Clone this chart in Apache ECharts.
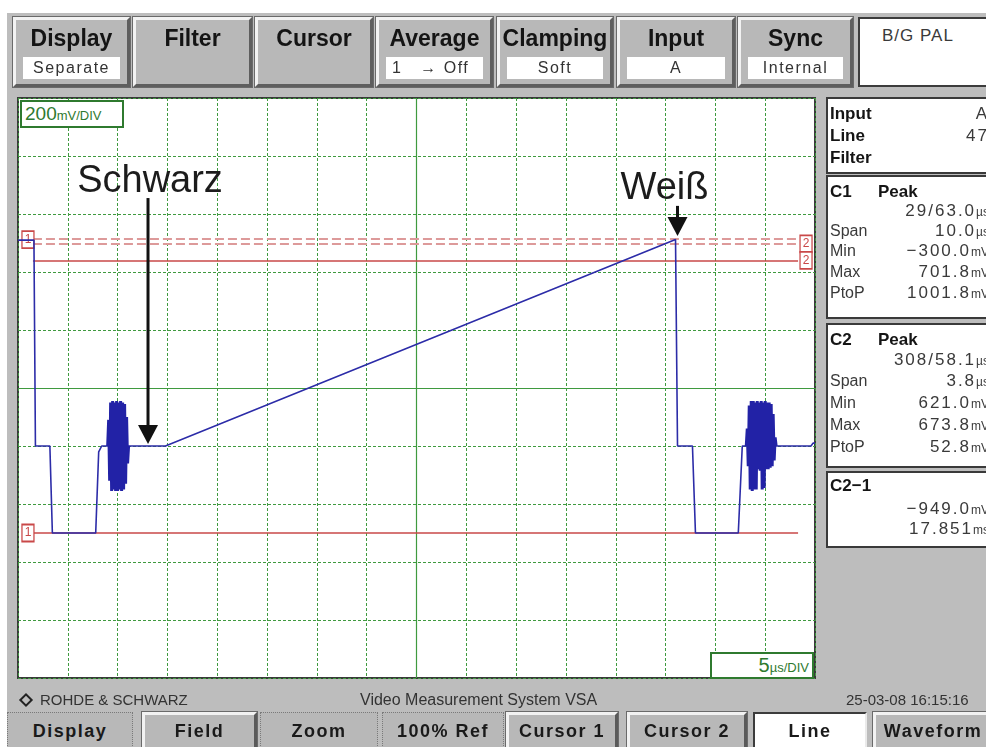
<!DOCTYPE html>
<html>
<head>
<meta charset="utf-8">
<title>VSA Line 47</title>
<script src="https://cdn.jsdelivr.net/npm/echarts@6/dist/echarts.min.js"></script>
<style>
  html, body { margin: 0; padding: 0; }
  body { position: relative; width: 986px; height: 747px; overflow: hidden; background: #fff; font-family: 'Liberation Sans', Arial, sans-serif; }
  #screen { position: absolute; left: 7px; top: 13px; width: 990px; height: 740px; background: #bdbdbd; }
  #chart { position: absolute; left: 0; top: 0; width: 986px; height: 747px; z-index: 1; }
  .ui { position: absolute; z-index: 2; box-sizing: border-box; }

  /* obere Tastenleiste */
  .tb { top: 17px; height: 70px; background: #b8b8b8; border: 3px solid; border-color: #f2f2f2 #5e5e5e #5e5e5e #f2f2f2; box-shadow: 0 0 0 1px #6a6a6a; }
  .tb .t { position: absolute; left: 0; right: 0; top: 5px; text-align: center; font-weight: bold; font-size: 23px; line-height: 26px; color: #141414; }
  .tb .s { position: absolute; left: 7px; right: 7px; top: 37px; height: 22px; background: #fff; text-align: center; font-size: 16px; line-height: 22px; color: #333; letter-spacing: 1.5px; white-space: pre; }

  /* Beschriftungen im Schirm */
  .div { background: #fff; border: 2px solid #2f7a2f; color: #2f7a2f; white-space: nowrap; }

  /* Messwert-Panel */
  .box { left: 826px; width: 172px; background: #fff; border: 2px solid #3a3a3a; }
  .pl { left: 830px; height: 20px; line-height: 20px; font-size: 16px; color: #3a3a3a; }
  .pb { height: 20px; line-height: 20px; font-size: 17px; font-weight: bold; color: #151515; }
  .pv { right: -3px; height: 20px; line-height: 20px; font-size: 17px; color: #3a3a3a; letter-spacing: 2px; white-space: nowrap; }
  .pv small { font-size: 12px; letter-spacing: 0; }

  /* untere Leiste */
  .bt { top: 691px; font-size: 15px; line-height: 18px; color: #333; white-space: nowrap; }
  .bb { top: 712px; height: 40px; background: #b8b8b8; text-align: center; font-weight: bold; font-size: 18px; letter-spacing: 1.5px; color: #1a1a1a; }
  .raised { border: 3px solid; border-color: #f2f2f2 #5a5a5a #5a5a5a #f2f2f2; line-height: 32px; box-shadow: 0 0 0 1px #6a6a6a; }
  .flat { border: 1px dotted #7a7a7a; line-height: 36px; }
  .sunk { background: #fff; border: 2px solid; border-color: #3c3c3c #eaeaea #eaeaea #3c3c3c; line-height: 34px; }
</style>
</head>
<body>
<div id="screen"></div>
<div id="chart"></div>

<!-- obere Tastenleiste -->
<div class="ui tb" style="left:13px;width:117px"><div class="t">Display</div><div class="s">Separate</div></div>
<div class="ui tb" style="left:133px;width:119px"><div class="t">Filter</div></div>
<div class="ui tb" style="left:255px;width:118px"><div class="t">Cursor</div></div>
<div class="ui tb" style="left:376px;width:117px"><div class="t">Average</div><div class="s" style="text-align:left;padding-left:6px">1   → Off</div></div>
<div class="ui tb" style="left:497px;width:116px"><div class="t">Clamping</div><div class="s">Soft</div></div>
<div class="ui tb" style="left:617px;width:118px"><div class="t">Input</div><div class="s">A</div></div>
<div class="ui tb" style="left:738px;width:115px"><div class="t">Sync</div><div class="s">Internal</div></div>
<div class="ui" style="left:858px;top:17px;width:140px;height:70px;background:#fff;border:2px solid #3c3c3c">
  <div style="position:absolute;left:22px;top:7px;font-size:17px;color:#3a3a3a;letter-spacing:1px">B/G PAL</div>
</div>

<!-- Skalenfaktoren -->
<div class="ui div" style="left:20px;top:100px;width:104px;height:28px;line-height:24px;padding-left:3px">
  <span style="font-size:19px">200</span><span style="font-size:13px">mV/DIV</span>
</div>
<div class="ui div" style="left:710px;top:652px;width:104px;height:27px;line-height:23px;text-align:right;padding-right:3px">
  <span style="font-size:20px">5</span><span style="font-size:13px">µs/DIV</span>
</div>

<!-- Messwert-Panel -->
<div class="ui box" style="top:97px;height:77px"></div>
<div class="ui pb" style="left:830px;top:104px">Input</div><div class="ui pv" style="top:104px">A</div>
<div class="ui pb" style="left:830px;top:126px">Line</div><div class="ui pv" style="top:126px">47</div>
<div class="ui pb" style="left:830px;top:148px">Filter</div>

<div class="ui box" style="top:175px;height:144px"></div>
<div class="ui pb" style="left:830px;top:182px">C1</div><div class="ui pb" style="left:878px;top:182px">Peak</div>
<div class="ui pv" style="top:201px">29/63.0<small>µs</small></div>
<div class="ui pl" style="top:221px">Span</div><div class="ui pv" style="top:221px">10.0<small>µs</small></div>
<div class="ui pl" style="top:241px">Min</div><div class="ui pv" style="top:241px">−300.0<small>mV</small></div>
<div class="ui pl" style="top:262px">Max</div><div class="ui pv" style="top:262px">701.8<small>mV</small></div>
<div class="ui pl" style="top:283px">PtoP</div><div class="ui pv" style="top:283px">1001.8<small>mV</small></div>

<div class="ui box" style="top:323px;height:145px"></div>
<div class="ui pb" style="left:830px;top:330px">C2</div><div class="ui pb" style="left:878px;top:330px">Peak</div>
<div class="ui pv" style="top:350px">308/58.1<small>µs</small></div>
<div class="ui pl" style="top:371px">Span</div><div class="ui pv" style="top:371px">3.8<small>µs</small></div>
<div class="ui pl" style="top:393px">Min</div><div class="ui pv" style="top:393px">621.0<small>mV</small></div>
<div class="ui pl" style="top:415px">Max</div><div class="ui pv" style="top:415px">673.8<small>mV</small></div>
<div class="ui pl" style="top:437px">PtoP</div><div class="ui pv" style="top:437px">52.8<small>mV</small></div>

<div class="ui box" style="top:471px;height:77px"></div>
<div class="ui pb" style="left:830px;top:476px">C2−1</div>
<div class="ui pv" style="top:499px">−949.0<small>mV</small></div>
<div class="ui pv" style="top:519px">17.851<small>ms</small></div>

<!-- untere Leiste -->
<div class="ui" style="left:21px;top:695px;width:10px;height:10px;border:2px solid #222;transform:rotate(45deg)"></div>
<div class="ui bt" style="left:40px">ROHDE &amp; SCHWARZ</div>
<div class="ui bt" style="left:360px;font-size:16px">Video Measurement System VSA</div>
<div class="ui bt" style="left:846px">25-03-08  16:15:16</div>

<div class="ui bb flat" style="left:7px;width:126px">Display</div>
<div class="ui bb raised" style="left:142px;width:115px">Field</div>
<div class="ui bb flat" style="left:260px;width:118px">Zoom</div>
<div class="ui bb flat" style="left:382px;width:122px">100% Ref</div>
<div class="ui bb raised" style="left:506px;width:112px">Cursor 1</div>
<div class="ui bb raised" style="left:627px;width:120px">Cursor 2</div>
<div class="ui bb sunk" style="left:753px;width:114px">Line</div>
<div class="ui bb raised" style="left:873px;width:120px">Waveform</div>

<script>
// Zeile 47, Zeitachse in µs (5 µs/DIV), Pegel in mV (200 mV/DIV, Schwarzwert = 0 mV)
var traceTimeUs = [0, 1.6, 1.75, 3.2, 3.45, 7.8, 8.1, 8.4, 14.8, 66.0, 66.2, 67.7, 68.0, 72.3, 72.7, 79.6, 79.8, 80];
var traceLevelMv = [710, 710, 0, 0, -300, -300, -20, 0, 0, 712, 0, 0, -300, -300, 0, 0, 10, 10];

// Farbburst nach den Synchronimpulsen
var burst1TimeUs = [9.0, 9.1, 9.2, 9.3, 9.4, 9.5, 9.6, 9.7, 9.8, 9.9, 10.0,
                    10.1, 10.2, 10.3, 10.4, 10.5, 10.6, 10.7, 10.8, 10.9, 11.0, 11.1];
var burst1LevelMv = [0, 90, -120, 150, -155, 155, -150, 150, -155, 155, -155,
                     150, -150, 155, -155, 150, -150, 145, -130, 100, -60, 0];

var burst2TimeUs = [73.1, 73.2, 73.3, 73.4, 73.5, 73.6, 73.7, 73.8, 73.9, 74.0, 74.1,
                    74.2, 74.3, 74.4, 74.5, 74.6, 74.7, 74.8, 74.9, 75.0, 75.1,
                    75.2, 75.3, 75.4, 75.5, 75.6, 75.7, 75.8, 75.9, 76.0, 76.1];
var burst2LevelMv = [0, 60, -70, 140, -150, 155, -155, 155, -150, 150, -150,
                     155, -80, 150, -85, 155, -150, 150, -145, 155, -80,
                     150, -80, 150, -75, 145, -70, 110, -50, 30, 0];

// Cursorlinien (mV) und ihre Marken
var cursorSolidMv = [-300, 640];
var cursorDashedMv = [715, 697];
var cursorLineStartUs = 1.5;
var cursorLineEndUs = 78.3;
var markerName = ['1', '1', '2', '2'];
var markerTimeUs = [1.0, 1.0, 79.1, 79.1];
var markerLevelMv = [-300, 712, 697, 640];

// Beschriftungen mit Pfeil
var noteText = ['Schwarz', 'Weiß'];
var noteTimeUs = [13.05, 66.2];
var noteTipMv = [7, 724];
var noteTailMv = [855, 828];

function pairs(xs, ys) {
  return xs.map(function (x, i) { return [x, ys[i]] })
}

var gridGreen = '#3f9a3f';
var cursorRed = '#c94848';
var traceBlue = '#2c2ca8';

var splitStyle = { show: true, lineStyle: { color: gridGreen, type: [3, 2], width: 1 } };

var chart = echarts.init(document.getElementById('chart'));

var cursorLines = [];
cursorSolidMv.forEach(function (v) {
  cursorLines.push([
    { coord: [cursorLineStartUs, v], lineStyle: { color: cursorRed, type: 'solid', width: 1.5 } },
    { coord: [cursorLineEndUs, v] }
  ])
});
cursorDashedMv.forEach(function (v) {
  cursorLines.push([
    { coord: [cursorLineStartUs, v], lineStyle: { color: '#dd9a9a', type: [9, 4], width: 2 } },
    { coord: [cursorLineEndUs, v] }
  ])
});

function burstSeries(xs, ys) {
  return {
    type: 'line', data: pairs(xs, ys), showSymbol: false, z: 6,
    lineStyle: { color: '#2222a6', width: 3, join: 'bevel' }
  }
}

chart.setOption({
  animation: false,
  backgroundColor: 'transparent',
  grid: {
    left: 18, top: 98, width: 797, height: 580,
    show: true, backgroundColor: '#fff', borderColor: '#3a3a3a', borderWidth: 2
  },
  xAxis: {
    type: 'value', min: 0, max: 80, interval: 5,
    axisLabel: { show: false }, axisTick: { show: false }, axisLine: { show: false },
    splitLine: splitStyle
  },
  yAxis: {
    type: 'value', min: -800, max: 1200, interval: 200,
    axisLabel: { show: false }, axisTick: { show: false }, axisLine: { show: false },
    splitLine: splitStyle
  },
  series: [
    {
      // Mittellinien
      type: 'line', data: [], silent: true, z: 2,
      markLine: {
        silent: true, symbol: 'none', label: { show: false },
        lineStyle: { color: gridGreen, type: 'solid', width: 1.2 },
        data: [{ xAxis: 40 }, { yAxis: 200 }]
      }
    },
    {
      // Cursor
      type: 'line', data: [], silent: true, z: 3,
      markLine: {
        silent: true, symbol: 'none', label: { show: false },
        data: cursorLines
      },
      markPoint: {
        silent: true, symbol: 'rect', symbolSize: [12, 17],
        itemStyle: { color: '#fff', borderColor: cursorRed, borderWidth: 1.5 },
        label: { show: true, position: 'inside', formatter: '{b}', color: cursorRed, fontSize: 12, fontFamily: 'Liberation Sans' },
        data: markerName.map(function (n, i) {
          return { name: n, coord: [markerTimeUs[i], markerLevelMv[i]] }
        })
      }
    },
    {
      name: 'Line 47',
      type: 'line', data: pairs(traceTimeUs, traceLevelMv), showSymbol: false, z: 5,
      lineStyle: { color: traceBlue, width: 1.6 }
    },
    burstSeries(burst1TimeUs, burst1LevelMv),
    burstSeries(burst2TimeUs, burst2LevelMv)
  ]
});

// Pfeile und Texte an den Datenpunkten ausrichten
var notes = [];
noteText.forEach(function (txt, i) {
  var tip = chart.convertToPixel({ gridIndex: 0 }, [noteTimeUs[i], noteTipMv[i]]);
  var tail = chart.convertToPixel({ gridIndex: 0 }, [noteTimeUs[i], noteTailMv[i]]);
  var dx = i === 0 ? 2 : -13;
  notes.push({
    type: 'line', z: 100,
    shape: { x1: tip[0], y1: tail[1], x2: tip[0], y2: tip[1] - 16 },
    style: { stroke: '#111', lineWidth: 3 }
  });
  notes.push({
    type: 'polygon', z: 100,
    shape: { points: [[tip[0] - 10, tip[1] - 19], [tip[0] + 10, tip[1] - 19], [tip[0], tip[1]]] },
    style: { fill: '#111' }
  });
  notes.push({
    type: 'text', z: 100, x: tip[0] + dx, y: tail[1] + 2,
    style: {
      text: txt, fill: '#1c1c1c', align: 'center', verticalAlign: 'bottom',
      font: '38px "Liberation Sans", Arial, sans-serif'
    }
  });
});
chart.setOption({ graphic: notes });
</script>
</body>
</html>
